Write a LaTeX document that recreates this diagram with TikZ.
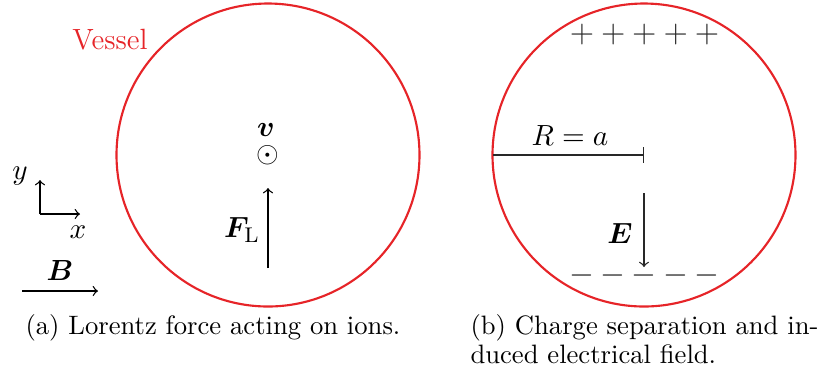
\documentclass[tikz,border=0pt]{standalone}
\usepackage{amsmath,bm}
\definecolor{vred}{RGB}{230,36,40}
\definecolor{dk}{RGB}{40,40,40}
\begin{document}
\begin{tikzpicture}[x=0.3756pt,y=-0.3756pt,
  lbl/.style={inner sep=0pt,font=\fontsize{11}{13}\selectfont},
  captxt/.style={inner sep=0pt,anchor=base west,font=\fontsize{10}{12}\selectfont},
  vecarr/.style={->,line width=0.5pt},
  signtxt/.style={inner sep=0pt,text=dk,font=\fontsize{12}{14}\selectfont},
  vessel/.style={draw=vred,line width=0.8pt}]
\useasboundingbox (0,0) rectangle (825,383);
% (a)
\node[inner sep=0pt,text=vred,font=\fontsize{11}{13}\selectfont] (lab) at (110,40) {Vessel};
\coordinate (ca) at (268,155);
\draw[vessel] (ca) circle[radius=56.9pt];
\node[lbl] (odot) at (ca) {$\odot$};
\node[lbl] (v) at (266,130) {$\bm{v}$};
\coordinate (f0) at (268,268);
\coordinate (f1) at (268,188);
\draw[vecarr] (f0) -- (f1);
\node[lbl] (fl) at (242,230) {$\bm{F}_{\mathrm{L}}$};
\coordinate (o) at (40,214);
\coordinate (ox) at (80,214);
\coordinate (oy) at (40,180);
\draw[vecarr] (o) -- (ox);
\draw[vecarr] (o) -- (oy);
\node[lbl] (ylab) at (20,176) {$y$};
\node[lbl] (xlab) at (78,232) {$x$};
\coordinate (b0) at (22,291);
\coordinate (b1) at (98,291);
\draw[vecarr] (b0) -- (b1);
\node[lbl] (blab) at (60,270) {$\bm{B}$};
\node[captxt] (capa) at (25,334) {(a) Lorentz force acting on ions.};
% (b)
\coordinate (cb) at (644,155);
\draw[vessel] (cb) circle[radius=56.9pt];
\foreach \i/\xx in {1/582,2/613.3,3/644.3,4/675.7,5/707}{
  \node[signtxt] (p\i) at (\xx,34) {$+$};
  \node[signtxt] (m\i) at (\xx,275) {$-$};
}
\coordinate (r0) at (493,155);
\draw[-|,line width=0.5pt,draw=dk] (r0) -- (cb);
\node[lbl] (rlab) at (570,136) {$R = a$};
\coordinate (e0) at (644,193);
\coordinate (e1) at (644,267);
\draw[vecarr,draw=dk] (e0) -- (e1);
\node[lbl] (elab) at (620,233) {$\bm{E}$};
\node[captxt] (capb) at (470,334) {(b) Charge separation and in-};
\node[captxt] (capb2) at (470,363) {duced electrical field.};
\end{tikzpicture}
\end{document}
